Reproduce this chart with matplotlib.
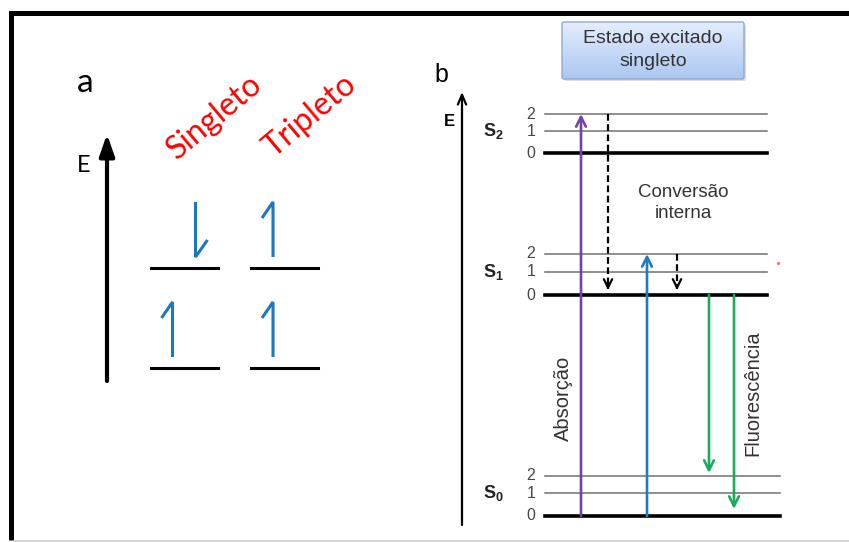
import numpy as np
import matplotlib.pyplot as plt
from matplotlib.patches import FancyBboxPatch

plt.rcParams['mathtext.fontset'] = 'custom'
plt.rcParams['mathtext.rm'] = 'Liberation Sans'
plt.rcParams['mathtext.bf'] = 'Liberation Sans:bold'

# (a) electron spins in the two orbitals, +1 up / -1 down
states = ['Singleto', 'Tripleto']
spin_lower = [1, 1]
spin_upper = [-1, 1]

# (b) vibrational levels of each electronic state (energy, arbitrary units)
elec_states = ['S0', 'S1', 'S2']
vib_numbers = [0, 1, 2]
energies = {
    'S0': [0.00, 0.23, 0.40],
    'S1': [2.21, 2.44, 2.62],
    'S2': [3.63, 3.85, 4.02],
}

# transitions: (from state, v), (to state, v)
absorption = [(('S0', 0), ('S2', 2)), (('S0', 0), ('S1', 2))]
internal_conv = [(('S2', 2), ('S1', 0)), (('S1', 2), ('S1', 0))]
fluorescence = [(('S1', 0), ('S0', 2)), (('S1', 0), ('S0', 0))]

W, H = 849, 542
fig = plt.figure(figsize=(W / 100, H / 100), dpi=100)

# pixel overlay for frame, panel a and free text
ax = fig.add_axes([0, 0, 1, 1])
ax.set_xlim(0, W)
ax.set_ylim(H, 0)
ax.axis('off')

# energy axes for panel b (100 px per energy unit, S0 v=0 at y=516)
axb = fig.add_axes([0, 0, 1, 1], facecolor='none')
axb.set_xlim(0, W)
axb.set_ylim((516 - H) / 100, 516 / 100)
axb.axis('off')

# frame
ax.plot([11.5, W], [12.5, 12.5], color='black', lw=3.6, solid_capstyle='projecting')
ax.plot([11.5, 11.5], [12.5, 540], color='black', lw=3.6, solid_capstyle='butt')
ax.plot([14, W], [540.5, 540.5], color='#cccccc', lw=1.2)

# ---------------- panel a ----------------
fa = 'Lato'
ax.text(85, 92, 'a', fontsize=24, family=fa, ha='center', va='baseline')
ax.annotate('', xy=(107, 134), xytext=(107, 381),
            arrowprops=dict(arrowstyle='-|>,head_length=1.3,head_width=0.45',
                            lw=3, color='black', mutation_scale=10,
                            shrinkA=0, shrinkB=0))
ax.text(84, 165, 'E', fontsize=17, family=fa, ha='center', va='center')

col_x = [184.5, 285]
lvl_y = [368, 268]
blue = '#1a78c2'


def spin(x, base, s):
    top = base - 55
    if s > 0:
        xs = [x - 12, x - 12, x - 23]
        ys = [base, top, top + 16]
    else:
        xs = [x + 11, x + 11, x + 23]
        ys = [top, base, base - 17]
    ax.plot(xs, ys, color=blue, lw=2.2, solid_joinstyle='miter',
            solid_capstyle='butt')


for i, name in enumerate(states):
    cx = col_x[i]
    for y in lvl_y:
        ax.plot([cx - 33.5, cx + 33.5], [y, y], color='black', lw=2.2)
    spin(cx, lvl_y[0] - 11, spin_lower[i])
    spin(cx, lvl_y[1] - 11, spin_upper[i])

ax.text(215, 117, states[0], fontsize=23, family=fa, color='#ff0000',
        rotation=40, ha='center', va='center', rotation_mode='anchor')
ax.text(310, 116, states[1], fontsize=23, family=fa, color='#ff0000',
        rotation=40, ha='center', va='center', rotation_mode='anchor')

# ---------------- panel b ----------------
fb = 'Liberation Sans'
ax.text(441, 82, 'b', fontsize=18, family=fb, ha='center', va='baseline')
ax.annotate('', xy=(462, 92), xytext=(462, 525),
            arrowprops=dict(arrowstyle='->,head_length=0.7,head_width=0.3',
                            lw=1.6, color='black', mutation_scale=10,
                            shrinkA=0, shrinkB=0))
ax.text(449, 121, 'E', fontsize=12, family=fb, weight='bold',
        ha='center', va='center')

# title box with gradient
box = FancyBboxPatch((562, 22), 182, 57, boxstyle='round,pad=0,rounding_size=2',
                     facecolor='none', edgecolor='#8fa9d4', lw=1.0, zorder=3)
shadow = FancyBboxPatch((564, 24), 182, 57, boxstyle='round,pad=0,rounding_size=2',
                        facecolor='#bbbbbb', edgecolor='none', alpha=0.5, zorder=1)
ax.add_patch(shadow)
ax.add_patch(box)
c_top = np.array([0.90, 0.93, 0.99])
c_bot = np.array([0.67, 0.78, 0.95])
t = np.linspace(0, 1, 64)[:, None, None]
grad = c_top * (1 - t) + c_bot * t
im = ax.imshow(grad, extent=(562, 744, 79, 22), aspect='auto', zorder=2,
               interpolation='bilinear')
im.set_clip_path(box)
ax.set_xlim(0, W)
ax.set_ylim(H, 0)
ax.text(653, 50, 'Estado excitado\nsingleto', fontsize=14, family=fb,
        color='#333333', ha='center', va='center', linespacing=1.5, zorder=4)

# vibrational levels
x_end = {'S0': 780, 'S1': 767, 'S2': 767}
for st in elec_states:
    for v in vib_numbers:
        e = energies[st][v]
        if v == 0:
            axb.plot([545, x_end[st]], [e, e], color='black', lw=2.6)
        else:
            axb.plot([545, x_end[st]], [e, e], color='#707070', lw=1.1)
        axb.text(531, e, str(v), fontsize=11.5, family=fb, color='#484848',
                 ha='center', va='center')
    axb.text(483, energies[st][1] - 0.05, r'$\mathbf{S_%s}$' % st[1],
             fontsize=13, ha='left', va='baseline', color='#222222')


def level(p):
    return energies[p[0]][p[1]]


def solid_arrow(x, a, b, color, tip_gap=0.0):
    y0, y1 = level(a), level(b)
    if y1 < y0:
        y1 += tip_gap
    axb.annotate('', xy=(x, y1), xytext=(x, y0),
                 arrowprops=dict(arrowstyle='->,head_length=0.7,head_width=0.35',
                                 lw=1.9, color=color, mutation_scale=10,
                                 shrinkA=0, shrinkB=0))


def dashed_arrow(x, a, b):
    y0, y1 = level(a), level(b) + 0.05
    axb.plot([x, x], [y0, y1 + 0.01], color='black', lw=1.6, ls=(0, (3, 1.6)))
    axb.annotate('', xy=(x, y1), xytext=(x, y1 + 0.05),
                 arrowprops=dict(arrowstyle='->,head_length=0.6,head_width=0.3',
                                 lw=1.6, color='black', mutation_scale=10,
                                 shrinkA=0, shrinkB=0))


solid_arrow(581, *absorption[0], color='#7442a3')
solid_arrow(647, *absorption[1], color='#1f7cc0')
dashed_arrow(608, *internal_conv[0])
dashed_arrow(677, *internal_conv[1])
solid_arrow(709, *fluorescence[0], color='#1aaa5c', tip_gap=0.03)
solid_arrow(734, *fluorescence[1], color='#1aaa5c', tip_gap=0.07)

ax.text(683, 203, 'Conversão\ninterna', fontsize=13.5, family=fb,
        color='#333333', ha='center', va='center', linespacing=1.35)
ax.text(563, 398, 'Absorção', fontsize=14.5, family=fb, color='#333333',
        rotation=90, ha='center', va='center')
ax.text(753, 393, 'Fluorescência', fontsize=14.5, family=fb, color='#333333',
        rotation=90, ha='center', va='center')

ax.plot([778], [263], 'o', ms=1.5, color='#e05050', alpha=0.6)

fig.savefig('out.png', dpi=100)
